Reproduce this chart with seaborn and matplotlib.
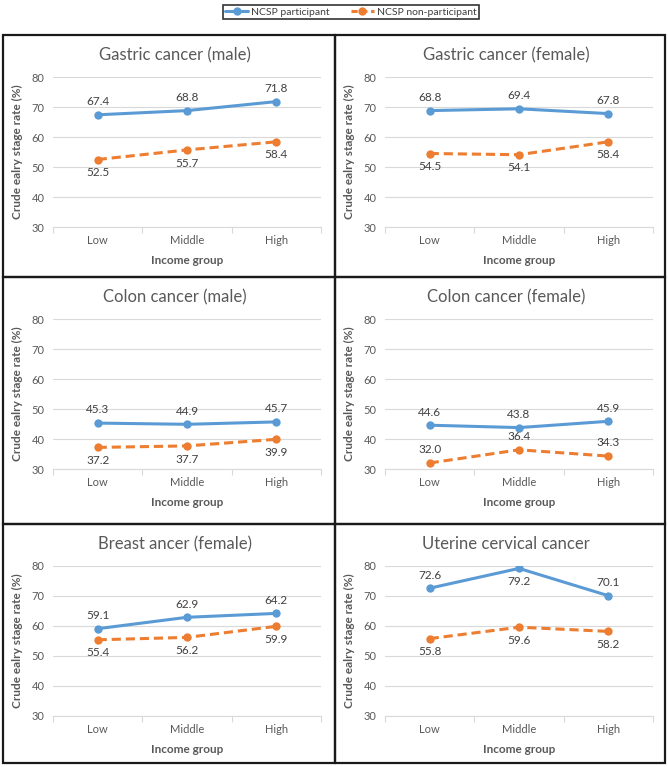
import numpy as np
import pandas as pd
import matplotlib
matplotlib.use("Agg")
import matplotlib.pyplot as plt
from matplotlib.patches import Rectangle
from matplotlib.lines import Line2D
import seaborn as sns

groups = ["Low", "Middle", "High"]
titles = ["Gastric cancer (male)", "Gastric cancer (female)",
          "Colon cancer (male)", "Colon cancer (female)",
          "Breast ancer (female)", "Uterine cervical cancer"]
participant = [[67.4, 68.8, 71.8], [68.8, 69.4, 67.8],
               [45.3, 44.9, 45.7], [44.6, 43.8, 45.9],
               [59.1, 62.9, 64.2], [72.6, 79.2, 70.1]]
non_participant = [[52.5, 55.7, 58.4], [54.5, 54.1, 58.4],
                   [37.2, 37.7, 39.9], [32.0, 36.4, 34.3],
                   [55.4, 56.2, 59.9], [55.8, 59.6, 58.2]]
series = ["NCSP participant", "NCSP non-participant"]

# label above (+1) or below (-1) the point
lab_pos_p = [[1, 1, 1], [1, 1, 1], [1, 1, 1], [1, 1, 1], [1, 1, 1], [1, -1, 1]]
lab_pos_n = [[-1, -1, -1], [-1, -1, -1], [-1, -1, -1], [1, 1, 1], [-1, -1, -1], [-1, -1, -1]]

blue = "#5B9BD5"
orange = "#ED7D31"
grey = "#595959"

sns.set_theme(style="white")
plt.rcParams["font.family"] = ["Lato", "DejaVu Sans"]

W, H = 668, 767
fig = plt.figure(figsize=(W / 100, H / 100), dpi=100)


def fx(x):
    return x / W


def fy(y):
    return 1 - y / H


cols = [(3, 335), (335, 665)]
rows = [(35, 277), (277, 524), (524, 763)]

for i, title in enumerate(titles):
    r, c = divmod(i, 2)
    x0, x1 = cols[c]
    y0, y1 = rows[r]
    fig.patches.append(Rectangle((fx(x0), fy(y1)), fx(x1 - x0), (y1 - y0) / H,
                                 transform=fig.transFigure, fill=False,
                                 edgecolor="#1a1a1a", linewidth=1.6, zorder=5))
    ax = fig.add_axes([fx(x0 + 50), fy(y0 + 42 + 150), fx(268), 150 / H])
    df = pd.DataFrame({
        "group": groups * 2,
        "rate": participant[i] + non_participant[i],
        "series": [series[0]] * 3 + [series[1]] * 3,
    })
    sns.lineplot(data=df, x="group", y="rate", hue="series", style="series",
                 palette=[blue, orange], dashes=[(1, 0), (3, 1.6)],
                 markers=["o", "o"], markersize=6, markeredgewidth=0,
                 linewidth=2.2, sort=False, legend=False, ax=ax)
    for j in range(3):
        ax.annotate(f"{participant[i][j]:.1f}", (j, participant[i][j]),
                    xytext=(0, 9.5 * lab_pos_p[i][j]), textcoords="offset points",
                    ha="center", va="center", fontsize=8.5, color="#404040")
        ax.annotate(f"{non_participant[i][j]:.1f}", (j, non_participant[i][j]),
                    xytext=(0, 9.5 * lab_pos_n[i][j]), textcoords="offset points",
                    ha="center", va="center", fontsize=8.5, color="#404040")
    ax.set_ylim(30, 80)
    ax.set_yticks([30, 40, 50, 60, 70, 80])
    ax.set_xlim(-0.5, 2.5)
    ax.set_xticks([0, 1, 2])
    ax.set_xticklabels(groups)
    ax.set_xticks([-0.5, 0.5, 1.5, 2.5], minor=True)
    ax.grid(axis="y", color="#d9d9d9", linewidth=0.8)
    ax.set_axisbelow(True)
    for s in ["top", "right", "left"]:
        ax.spines[s].set_visible(False)
    ax.spines["bottom"].set_color("#d9d9d9")
    ax.spines["bottom"].set_linewidth(0.8)
    ax.tick_params(axis="both", which="major", length=0, labelsize=8,
                   labelcolor=grey, pad=6)
    ax.tick_params(axis="x", which="minor", length=4, color="#d9d9d9",
                   width=0.8, bottom=True)
    ax.set_xlabel("Income group", fontsize=8.5, fontweight="bold", color=grey,
                  labelpad=6)
    ax.set_ylabel("Crude ealry stage rate (%)", fontsize=8.5, fontweight="bold",
                  color=grey, labelpad=6)
    fig.text(fx((x0 + x1) / 2 + 6), fy(y0 + 20), title, ha="center", va="center",
             fontsize=12, color=grey)

handles = [Line2D([], [], color=blue, linewidth=2.2, marker="o", markersize=5),
           Line2D([], [], color=orange, linewidth=2.2, linestyle=(0, (2, 1.2)),
                  marker="o", markersize=5)]
leg = fig.legend(handles, series, loc="center", bbox_to_anchor=(fx(351), fy(12)),
                 ncol=2, fontsize=7.5, frameon=True, fancybox=False,
                 handlelength=2.2, handletextpad=0.3, columnspacing=2.0,
                 borderpad=0.25)
leg.get_frame().set_edgecolor("black")
leg.get_frame().set_linewidth(1.2)
for t in leg.get_texts():
    t.set_color("#404040")

fig.savefig("out.png", dpi=100)
